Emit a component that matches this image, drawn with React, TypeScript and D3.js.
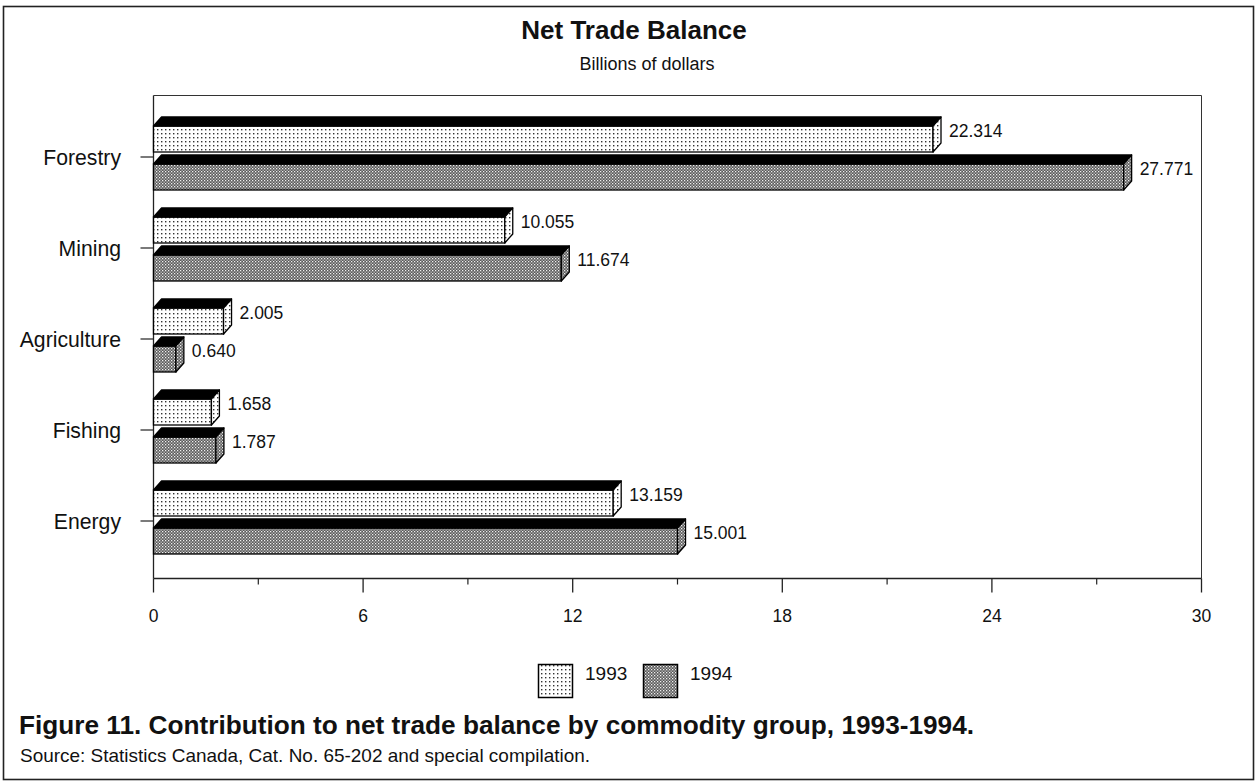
import React from "react";
import * as d3 from "d3";

const categories = ["Forestry", "Mining", "Agriculture", "Fishing", "Energy"];
const series = ["1993", "1994"];
const values1993 = [22.314, 10.055, 2.005, 1.658, 13.159];
const values1994 = [27.771, 11.674, 0.64, 1.787, 15.001];
const xTicks = [0, 6, 12, 18, 24, 30];
const xMinorTicks = [3, 9, 15, 21, 27];

const W = 1258;
const H = 783;
const FONT = "'Liberation Sans', Arial, Helvetica, sans-serif";

export default function App() {
  const x = d3.scaleLinear().domain([0, 30]).range([153.5, 1201.5]);
  const y = d3.scaleBand<string>().domain(categories).range([111.5, 566.5]);
  const plotTop = 95.5;
  const plotBottom = 578.5;
  const dx = 8;
  const dy = 9;
  const seriesVals = [values1993, values1994];
  const fills = ["url(#dots)", "url(#check)"];
  const frontTop = [-31, 7];
  const frontH = 26;

  const bars: React.ReactNode[] = [];
  categories.forEach((cat, ci) => {
    const c = (y(cat) as number) + y.bandwidth() / 2;
    seriesVals.forEach((vals, si) => {
      const v = vals[ci];
      const x0 = x(0);
      const x1 = x(v);
      const t = c + frontTop[si];
      const b = t + frontH;
      const top = `M${x0},${t} L${x0 + dx},${t - dy} L${x1 + dx},${t - dy} L${x1},${t} Z`;
      const side = `M${x1},${t} L${x1 + dx},${t - dy} L${x1 + dx},${b - dy} L${x1},${b} Z`;
      bars.push(
        <g key={`${cat}-${si}`}>
          <rect x={x0} y={t} width={x1 - x0} height={frontH} fill={fills[si]} stroke="#000" strokeWidth={1.3} />
          <path d={top} fill="#000" stroke="#000" strokeWidth={1.3} strokeLinejoin="round" />
          <path d={side} fill={fills[si]} stroke="#000" strokeWidth={1.3} strokeLinejoin="round" />
          <text x={x1 + dx + 8} y={t + 11} fontSize={17.5} fontFamily={FONT} fill="#111">
            {v.toFixed(3)}
          </text>
        </g>
      );
    });
  });

  return (
    <svg width={W} height={H} style={{ position: "absolute", left: 0, top: 0, background: "#fff" }}>
      <defs>
        <pattern id="dots" width={4} height={4} patternUnits="userSpaceOnUse">
          <rect width={4} height={4} fill="#fff" />
          <rect x={1} y={1} width={1.4} height={1.4} fill="#333" />
        </pattern>
        <pattern id="check" width={3} height={3} patternUnits="userSpaceOnUse">
          <rect width={3} height={3} fill="#5a5a5a" />
          <rect x={0} y={0} width={1.3} height={1.3} fill="#f0f0f0" />
          <rect x={1.5} y={1.5} width={1.3} height={1.3} fill="#c8c8c8" />
        </pattern>
      </defs>
      <rect x={0} y={0} width={W} height={H} fill="#fff" />
      <rect x={3.5} y={6.5} width={1250} height={773} fill="none" stroke="#222" strokeWidth={1.6} />

      <text x={634} y={39} textAnchor="middle" fontSize={26} fontWeight="bold" fontFamily={FONT} fill="#111">
        Net Trade Balance
      </text>
      <text x={647} y={70} textAnchor="middle" fontSize={18} fontFamily={FONT} fill="#111">
        Billions of dollars
      </text>

      <line x1={x(0)} x2={x(30)} y1={plotTop} y2={plotTop} stroke="#333" strokeWidth={1} />
      <line x1={x(30)} x2={x(30)} y1={plotTop} y2={plotBottom} stroke="#333" strokeWidth={1} />
      <line x1={x(0)} x2={x(0)} y1={plotTop} y2={plotBottom} stroke="#222" strokeWidth={1.3} />
      <line x1={x(0)} x2={x(30)} y1={plotBottom} y2={plotBottom} stroke="#222" strokeWidth={1.3} />

      {xTicks.map((t) => (
        <g key={t}>
          <line x1={x(t)} x2={x(t)} y1={plotBottom} y2={plotBottom + 14} stroke="#222" strokeWidth={1.3} />
          <text x={x(t)} y={622} textAnchor="middle" fontSize={17.5} fontFamily={FONT} fill="#111">
            {t}
          </text>
        </g>
      ))}
      {xMinorTicks.map((t) => (
        <line key={t} x1={x(t)} x2={x(t)} y1={plotBottom} y2={plotBottom + 6} stroke="#222" strokeWidth={1.2} />
      ))}

      {categories.map((cat) => {
        const c = (y(cat) as number) + y.bandwidth() / 2;
        return (
          <g key={cat}>
            <line x1={x(0) - 13} x2={x(0)} y1={c} y2={c} stroke="#222" strokeWidth={1.2} />
            <text x={121} y={c + 8} textAnchor="end" fontSize={21.2} fontFamily={FONT} fill="#111">
              {cat}
            </text>
          </g>
        );
      })}

      {bars}

      {series.map((s, i) => {
        const lx = i === 0 ? 538 : 643;
        return (
          <g key={s}>
            <rect x={lx + 0.5} y={664.5} width={34} height={33} fill={fills[i]} stroke="#000" strokeWidth={1.5} />
            <text x={lx + 47} y={680} fontSize={19} fontFamily={FONT} fill="#111">
              {s}
            </text>
          </g>
        );
      })}

      <text x={19} y={734} fontSize={25} fontWeight="bold" fontFamily={FONT} fill="#111" textLength={955} lengthAdjust="spacingAndGlyphs">
        Figure 11. Contribution to net trade balance by commodity group, 1993-1994.
      </text>
      <text x={20} y={762} fontSize={18.5} fontFamily={FONT} fill="#111" textLength={570} lengthAdjust="spacingAndGlyphs">
        Source:  Statistics Canada, Cat. No. 65-202 and special compilation.
      </text>
    </svg>
  );
}
